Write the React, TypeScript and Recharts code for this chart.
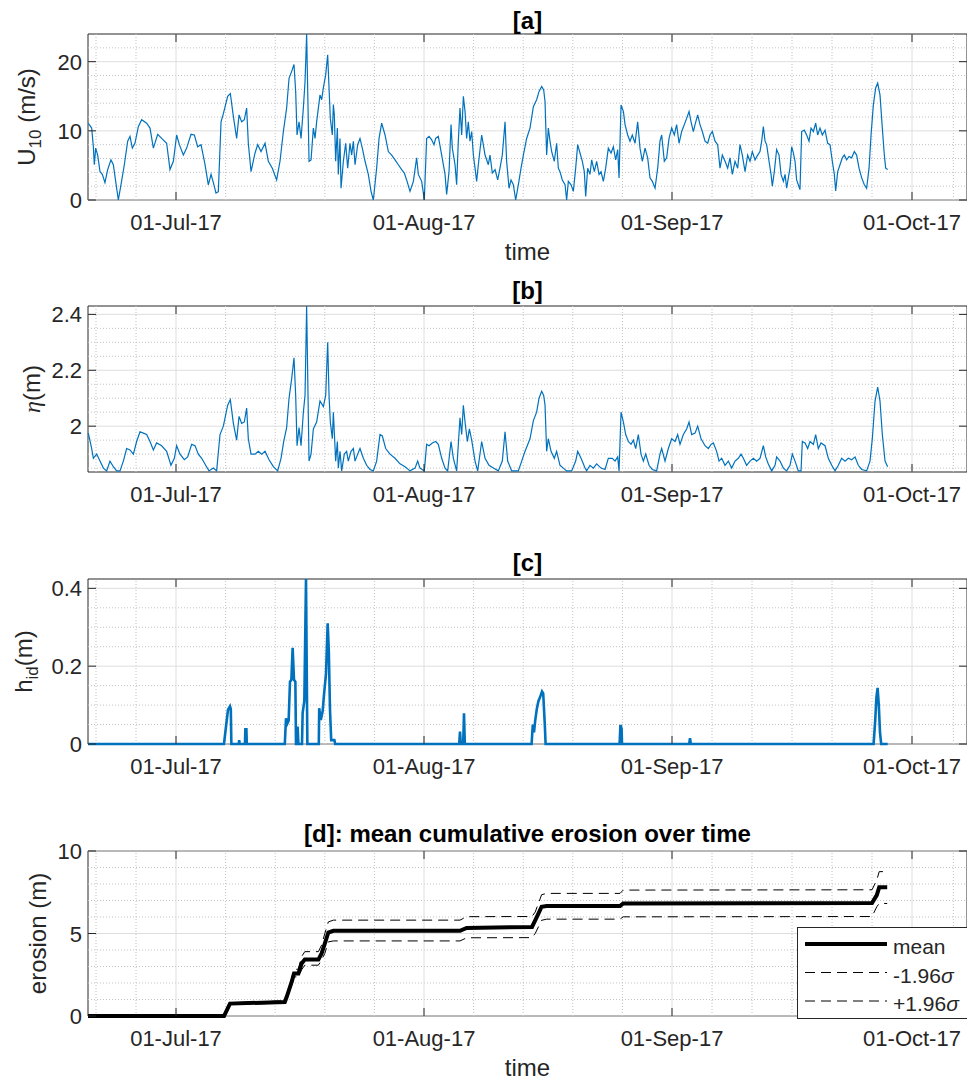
import type { ReactNode } from "react";
import {
  Legend,
  Line,
  LineChart,
  ReferenceArea,
  ReferenceLine,
  XAxis,
  YAxis,
} from "recharts";

const FONT = '"Liberation Sans", Arial, Helvetica, sans-serif';
const INK = "#262626";
const BLUE = "#0072BD";
const MAJOR_GRID = "#dedede";
const MINOR_GRID = "#c2c2c2";

const WIDTH = 967;
const AXIS_LEFT = 88;
const PLOT_W = WIDTH - AXIS_LEFT;
const TICK_LEN = 8;

// time is counted in days from 01-Jul-2017 00:00
const timeDomain: [number, number] = [-11, 98.875];
const monthDays = [0, 31, 62, 92];
const monthLabels = ["01-Jul-17", "01-Aug-17", "01-Sep-17", "01-Oct-17"];
const minorDays = [-10, -5, 6.2, 12.4, 18.6, 24.8, 37.2, 43.4, 49.6, 55.8, 67, 72, 77, 82, 87, 97.17];

type Pair = [number, number];

// [a] 10 m wind speed (m/s)
const windSpeed: Pair[] = [
  [-10.96, 11.1], [-10.54, 10.4], [-10.33, 7.7], [-10.21, 5.1], [-10.04, 7.5], [-9.79, 6.5],
  [-9.5, 4.1], [-9.21, 3.7], [-8.88, 2.5], [-8.54, 4.4], [-8.13, 5.8], [-7.83, 5.1],
  [-7.54, 2.7], [-7.21, 0], [-6.88, 2.2], [-6.46, 5.1], [-6.04, 8.5], [-5.75, 9.2],
  [-5.46, 7.5], [-5.13, 8.2], [-4.71, 10.6], [-4.29, 11.6], [-3.67, 11.1], [-3.25, 10.4],
  [-2.83, 7.5], [-2.29, 9.5], [-1.79, 8.9], [-1.17, 8.2], [-0.75, 4.4], [-0.33, 5.6],
  [0.08, 9.4], [0.42, 8.0], [0.92, 6.5], [1.33, 7.5], [1.88, 9.5], [2.29, 9.4],
  [2.71, 7.7], [3.13, 8.0], [3.63, 5.1], [4.04, 2.2], [4.38, 3.7], [4.67, 2.5],
  [5.0, 1.0], [5.29, 1.2], [5.63, 11.3], [5.92, 12.5], [6.46, 15.0], [6.79, 15.4],
  [7.17, 12.1], [7.58, 8.9], [7.88, 12.3], [8.21, 11.3], [8.54, 11.6], [8.83, 13.3],
  [9.04, 8.2], [9.38, 4.1], [9.88, 6.8], [10.21, 8.0], [10.63, 7.0], [11.13, 8.2],
  [11.54, 5.6], [12.04, 4.6], [12.58, 2.9], [13.0, 5.6], [13.42, 9.9], [13.83, 13.3],
  [14.13, 17.6], [14.46, 18.6], [14.75, 19.6], [14.96, 15.7], [15.13, 9.4], [15.38, 11.3],
  [15.63, 8.9], [15.92, 13.3], [16.13, 17.1], [16.33, 24], [16.63, 5.6], [16.88, 5.8],
  [17.17, 10.4], [17.38, 8.9], [17.58, 11.3], [18.0, 15.2], [18.21, 14.5], [18.42, 16.2],
  [18.71, 18.1], [18.96, 21.0], [19.13, 16.2], [19.29, 11.8], [19.54, 9.4], [19.67, 13.8],
  [19.79, 12.3], [19.96, 5.6], [20.17, 10.4], [20.29, 3.7], [20.5, 8.9], [20.63, 1.7],
  [20.92, 5.6], [21.21, 8.2], [21.46, 4.6], [21.75, 8.2], [21.96, 6.5], [22.17, 8.5],
  [22.38, 5.1], [22.71, 8.0], [23.0, 8.9], [23.29, 7.5], [23.63, 5.6], [24.04, 3.7],
  [24.38, 1.25], [24.67, 0], [25.08, 4.6], [25.38, 8.9], [25.71, 11.1], [26.13, 9.4],
  [26.54, 7.0], [26.96, 6.5], [27.38, 5.8], [27.79, 5.1], [28.21, 4.4], [28.54, 3.9],
  [28.83, 2.9], [29.25, 1.25], [29.67, 2.7], [30.08, 6.1], [30.29, 3.7], [30.71, 2.7],
  [31.04, 0], [31.33, 8.9], [31.63, 9.2], [31.96, 8.7], [32.25, 8.0], [32.46, 8.9],
  [32.79, 9.2], [33.21, 6.5], [33.63, 3.7], [33.83, 0.8], [34.13, 4.1], [34.38, 10.9],
  [34.54, 7.5], [34.88, 5.1], [35.08, 2.2], [35.29, 8.5], [35.5, 13.3], [35.71, 9.4],
  [35.92, 15.0], [36.13, 12.8], [36.33, 8.9], [36.54, 11.3], [36.75, 8.5], [36.96, 9.9],
  [37.17, 6.5], [37.38, 4.6], [37.58, 2.7], [37.79, 5.1], [38.21, 9.4], [38.63, 6.5],
  [39.04, 5.1], [39.25, 6.5], [39.54, 3.9], [39.88, 4.4], [40.21, 2.9], [40.5, 4.6],
  [40.79, 6.5], [41.13, 11.3], [41.33, 5.6], [41.63, 1.7], [41.88, 2.9], [42.17, 2.2],
  [42.46, 0], [42.79, 2.2], [43.13, 4.6], [43.42, 6.5], [43.83, 8.9], [44.25, 10.4],
  [44.67, 13.5], [45.08, 14.5], [45.38, 15.7], [45.71, 16.4], [45.96, 15.9], [46.13, 14.2],
  [46.33, 6.5], [46.54, 10.4], [46.75, 8.5], [46.96, 7.0], [47.29, 5.6], [47.58, 8.2],
  [47.79, 4.6], [48.0, 4.1], [48.29, 2.9], [48.63, 2.2], [48.83, 0], [49.04, 2.7],
  [49.38, 2.2], [49.67, 1.25], [49.96, 4.6], [50.21, 8.0], [50.5, 6.8], [50.79, 5.6],
  [51.04, 4.1], [51.21, 0.5], [51.46, 4.6], [51.75, 3.7], [51.96, 5.8], [52.29, 4.1],
  [52.58, 5.6], [52.88, 3.7], [53.13, 4.1], [53.42, 2.7], [53.71, 4.6], [54.04, 7.5],
  [54.38, 6.8], [54.67, 7.7], [54.96, 5.8], [55.21, 7.3], [55.38, 3.2], [55.63, 13.75],
  [55.92, 12.8], [56.13, 10.9], [56.46, 9.4], [56.75, 8.5], [57.04, 9.4], [57.38, 8.2],
  [57.71, 11.3], [58.0, 7.5], [58.29, 5.6], [58.63, 7.5], [58.96, 6.1], [59.25, 3.2],
  [59.54, 2.7], [59.88, 1.7], [60.21, 4.6], [60.5, 8.5], [60.71, 9.4], [61.04, 5.6],
  [61.33, 6.1], [61.63, 8.9], [61.96, 10.4], [62.29, 9.4], [62.58, 10.9], [62.88, 8.2],
  [63.21, 9.9], [63.54, 10.9], [63.83, 11.8], [64.13, 12.8], [64.38, 11.3], [64.67, 9.9],
  [64.88, 10.9], [65.21, 12.3], [65.5, 10.9], [65.79, 9.9], [66.13, 8.5], [66.46, 8.2],
  [66.75, 9.4], [67.04, 9.9], [67.38, 8.5], [67.71, 8.0], [68.0, 4.6], [68.29, 6.5],
  [68.63, 5.6], [68.96, 4.6], [69.25, 6.1], [69.54, 3.7], [69.88, 5.6], [70.21, 4.6],
  [70.5, 8.0], [70.79, 6.5], [71.13, 4.1], [71.46, 6.5], [71.75, 5.6], [72.04, 7.0],
  [72.38, 5.8], [72.71, 6.5], [73.0, 7.0], [73.21, 8.5], [73.42, 10.6], [73.63, 8.5],
  [73.83, 8.0], [74.13, 5.6], [74.38, 3.7], [74.54, 2.0], [74.79, 4.1], [75.08, 7.3],
  [75.38, 6.5], [75.63, 3.7], [75.92, 2.7], [76.13, 3.7], [76.33, 1.7], [76.54, 3.2],
  [76.75, 4.6], [76.96, 7.7], [77.17, 6.8], [77.38, 5.6], [77.58, 2.9], [77.79, 2.2],
  [78.0, 1.5], [78.21, 9.9], [78.54, 10.1], [78.83, 9.4], [79.13, 8.5], [79.38, 10.4],
  [79.67, 9.9], [79.96, 11.1], [80.21, 9.4], [80.5, 10.4], [80.79, 9.4], [81.13, 10.1],
  [81.46, 8.2], [81.75, 8.0], [82.04, 5.6], [82.29, 3.7], [82.46, 1.3], [82.71, 4.1],
  [83.0, 5.1], [83.29, 6.1], [83.54, 6.5], [83.83, 5.8], [84.13, 6.3], [84.46, 6.1],
  [84.79, 7.0], [85.08, 6.5], [85.38, 4.6], [85.71, 3.2], [86.04, 2.2], [86.33, 1.7],
  [86.63, 4.6], [86.88, 9.4], [87.17, 13.75], [87.46, 16.2], [87.71, 16.9], [88.0, 15.2],
  [88.29, 10.4], [88.54, 6.5], [88.71, 4.6], [88.96, 4.4],
];

// [b] water level eta (m)
const waterLevel: Pair[] = [
  [-10.96, 1.975], [-10.54, 1.92], [-10.33, 1.885], [-9.92, 1.9], [-9.5, 1.875], [-9.08, 1.85],
  [-8.67, 1.84], [-8.25, 1.875], [-7.83, 1.855], [-7.42, 1.84], [-7.0, 1.84], [-6.58, 1.875],
  [-6.17, 1.92], [-5.75, 1.915], [-5.33, 1.9], [-4.92, 1.945], [-4.5, 1.98], [-4.08, 1.975],
  [-3.67, 1.97], [-3.25, 1.945], [-2.83, 1.915], [-2.42, 1.94], [-1.79, 1.93], [-1.17, 1.91],
  [-0.63, 1.86], [-0.21, 1.885], [0.08, 1.93], [0.5, 1.9], [1.04, 1.88], [1.46, 1.89],
  [1.96, 1.935], [2.38, 1.93], [2.79, 1.9], [3.21, 1.885], [3.71, 1.86], [4.13, 1.84],
  [4.67, 1.85], [5.08, 1.84], [5.5, 1.97], [5.92, 2.0], [6.46, 2.075], [6.79, 2.095],
  [7.17, 2.01], [7.58, 1.95], [7.88, 2.035], [8.21, 2.01], [8.54, 2.015], [8.83, 2.065],
  [9.04, 1.955], [9.38, 1.9], [9.88, 1.9], [10.29, 1.91], [10.71, 1.9], [11.13, 1.91],
  [11.63, 1.88], [12.17, 1.855], [12.71, 1.84], [13.13, 1.885], [13.46, 1.945], [13.83, 1.995],
  [14.13, 2.1], [14.46, 2.17], [14.75, 2.245], [14.96, 2.11], [15.13, 1.93], [15.38, 1.995],
  [15.63, 1.93], [15.92, 2.05], [16.13, 2.11], [16.33, 2.43], [16.63, 1.875], [16.88, 1.9],
  [17.17, 1.99], [17.58, 2.015], [18.0, 2.09], [18.42, 2.07], [18.71, 2.11], [18.96, 2.3],
  [19.13, 2.11], [19.29, 2.015], [19.54, 1.955], [19.67, 2.05], [19.96, 1.875], [20.17, 1.945],
  [20.29, 1.85], [20.5, 1.91], [20.71, 1.84], [21.04, 1.9], [21.33, 1.91], [21.54, 1.875],
  [21.88, 1.91], [22.17, 1.92], [22.38, 1.875], [22.71, 1.9], [23.0, 1.92], [23.42, 1.885],
  [23.83, 1.86], [24.25, 1.845], [24.67, 1.84], [25.08, 1.875], [25.5, 1.97], [25.79, 1.965],
  [26.21, 1.92], [26.75, 1.9], [27.38, 1.885], [28.0, 1.865], [28.63, 1.855], [29.25, 1.84],
  [29.88, 1.85], [30.21, 1.875], [30.5, 1.85], [31.04, 1.84], [31.33, 1.935], [31.63, 1.93],
  [32.04, 1.94], [32.46, 1.945], [32.79, 1.935], [33.21, 1.885], [33.63, 1.85], [33.96, 1.84],
  [34.38, 1.945], [34.67, 1.885], [35.08, 1.84], [35.5, 2.03], [35.71, 1.97], [35.92, 2.075],
  [36.13, 2.015], [36.42, 1.945], [36.67, 1.99], [36.96, 1.95], [37.38, 1.875], [37.71, 1.84],
  [38.21, 1.945], [38.63, 1.885], [39.13, 1.86], [39.67, 1.85], [40.29, 1.84], [40.79, 1.875],
  [41.13, 1.98], [41.46, 1.875], [41.96, 1.84], [42.79, 1.84], [43.21, 1.875], [43.63, 1.91],
  [44.25, 1.955], [44.67, 2.02], [45.08, 2.05], [45.38, 2.1], [45.71, 2.125], [45.96, 2.11],
  [46.13, 2.075], [46.33, 1.91], [46.54, 1.955], [46.88, 1.91], [47.29, 1.885], [47.58, 1.91],
  [48.0, 1.86], [48.42, 1.85], [48.83, 1.84], [49.46, 1.84], [49.96, 1.875], [50.21, 1.91],
  [50.63, 1.885], [51.13, 1.85], [51.33, 1.84], [51.75, 1.86], [52.17, 1.85], [52.58, 1.865],
  [53.13, 1.85], [53.63, 1.845], [54.04, 1.885], [54.54, 1.885], [54.88, 1.875], [55.21, 1.89],
  [55.38, 1.84], [55.63, 2.05], [55.92, 2.015], [56.21, 1.97], [56.54, 1.945], [56.88, 1.935],
  [57.17, 1.95], [57.46, 1.92], [57.79, 1.97], [58.13, 1.9], [58.42, 1.875], [58.71, 1.9],
  [59.13, 1.86], [59.54, 1.845], [60.08, 1.84], [60.5, 1.9], [60.71, 1.92], [61.13, 1.875],
  [61.54, 1.92], [61.96, 1.955], [62.38, 1.945], [62.71, 1.97], [63.0, 1.935], [63.42, 1.97],
  [63.83, 1.99], [64.13, 2.015], [64.46, 1.97], [64.88, 1.975], [65.21, 2.0], [65.63, 1.955],
  [66.13, 1.93], [66.54, 1.92], [66.88, 1.935], [67.17, 1.94], [67.58, 1.91], [67.88, 1.875],
  [68.21, 1.885], [68.63, 1.86], [69.04, 1.875], [69.46, 1.85], [69.88, 1.875], [70.29, 1.885],
  [70.63, 1.9], [70.92, 1.885], [71.33, 1.86], [71.75, 1.875], [72.17, 1.885], [72.58, 1.875],
  [73.0, 1.885], [73.42, 1.93], [73.71, 1.89], [74.04, 1.865], [74.46, 1.84], [74.88, 1.86],
  [75.08, 1.89], [75.5, 1.875], [75.92, 1.85], [76.33, 1.84], [76.75, 1.86], [77.04, 1.9],
  [77.38, 1.875], [77.79, 1.84], [78.13, 1.84], [78.29, 1.945], [78.63, 1.94], [78.96, 1.92],
  [79.25, 1.945], [79.67, 1.935], [79.96, 1.97], [80.29, 1.92], [80.63, 1.94], [81.13, 1.93],
  [81.54, 1.885], [81.96, 1.86], [82.38, 1.84], [82.79, 1.86], [83.21, 1.885], [83.63, 1.875],
  [84.04, 1.885], [84.46, 1.88], [84.88, 1.89], [85.29, 1.86], [85.71, 1.845], [86.33, 1.84],
  [86.75, 1.875], [87.04, 1.955], [87.38, 2.09], [87.71, 2.14], [88.0, 2.09], [88.29, 1.97],
  [88.63, 1.875], [88.96, 1.855],
];

// [c] impact depth h_id (m)
const impactDepth: Pair[] = [
  [-11, 0], [6.0, 0], [6.25, 0.045], [6.5, 0.088], [6.75, 0.097], [6.85, 0.09], [6.92, 0],
  [7.85, 0], [7.9, 0.01], [7.95, 0], [8.62, 0], [8.67, 0.038], [8.8, 0.038], [8.85, 0],
  [13.6, 0], [13.75, 0.066], [13.92, 0.053], [14.08, 0.06], [14.25, 0.16], [14.42, 0.165],
  [14.58, 0.247], [14.75, 0.165], [14.92, 0.16], [15.0, 0], [15.15, 0], [15.2, 0.045], [15.3, 0],
  [15.75, 0], [15.83, 0.08], [16.04, 0.11], [16.25, 0.424], [16.42, 0],
  [17.85, 0], [17.9, 0.092], [18.1, 0.062], [18.33, 0.084], [18.5, 0.127], [18.75, 0.18],
  [18.96, 0.31], [19.1, 0.24], [19.25, 0.088], [19.4, 0.01], [19.8, 0.01], [19.9, 0],
  [35.4, 0], [35.5, 0.032], [35.6, 0], [35.9, 0], [36.0, 0.079], [36.1, 0],
  [44.45, 0], [44.6, 0.05], [44.75, 0.03], [44.9, 0.06], [45.1, 0.09], [45.3, 0.11],
  [45.5, 0.12], [45.75, 0.135], [45.9, 0.13], [46.1, 0.05], [46.2, 0],
  [55.45, 0], [55.55, 0.049], [55.7, 0.04], [55.75, 0],
  [64.15, 0], [64.25, 0.015], [64.35, 0],
  [87.2, 0], [87.4, 0.06], [87.55, 0.12], [87.7, 0.144], [87.85, 0.1], [88.0, 0.03], [88.15, 0],
  [88.96, 0],
];

// [d] cumulative erosion (m): mean and 95% band
const erosionDays = [
  -11, 6.0, 6.75, 13.6, 13.83, 14.46, 14.75, 15.3, 15.7, 16.1, 17.8, 18.2, 18.6, 19.04,
  19.67, 35.5, 36.33, 44.5, 44.9, 45.3, 45.7, 46.33, 55.5, 55.9, 87.0, 87.6, 87.9, 88.9,
];
const erosionMean = [
  0, 0, 0.75, 0.85, 1.15, 2.06, 2.57, 2.57, 3.18, 3.42, 3.42, 3.79, 4.39, 5.06,
  5.16, 5.16, 5.34, 5.4, 5.8, 6.2, 6.62, 6.66, 6.66, 6.82, 6.85, 7.33, 7.8, 7.8,
];
const erosionLower = [
  0, 0, 0.7, 0.78, 1.05, 1.85, 2.37, 2.37, 2.8, 3.08, 3.08, 3.4, 3.79, 4.49,
  4.55, 4.55, 4.74, 4.75, 5.0, 5.4, 5.8, 5.87, 5.87, 6.01, 6.03, 6.62, 6.82, 6.82,
];
const erosionUpper = [
  0, 0, 0.8, 0.92, 1.25, 2.3, 2.8, 2.85, 3.6, 3.9, 3.9, 4.3, 5.0, 5.7,
  5.81, 5.81, 6.02, 6.03, 6.3, 6.82, 7.35, 7.43, 7.43, 7.63, 7.65, 8.24, 8.75, 8.75,
];

const toRows = (pairs: Pair[]) => pairs.map(([day, value]) => ({ day, value }));
const erosionRows = erosionDays.map((day, i) => ({
  day,
  mean: erosionMean[i],
  lower: erosionLower[i],
  upper: erosionUpper[i],
}));

const legendOrder = ["mean", "-1.96σ", "+1.96σ"];

interface PanelSpec {
  top: number;
  height: number;
  marginTop: number;
  plotHeight: number;
  yDomain: [number, number];
  yTicks: number[];
  yMinor: number[];
  title: string;
  titleOffset: number;
  yLabel: ReactNode;
  yLabelX: number;
  timeLabel?: boolean;
}

const textStyle = { fontFamily: FONT, fill: INK };

function Panel({ spec, children }: { spec: PanelSpec; children: ReactNode }) {
  const xAxisHeight = spec.height - spec.marginTop - spec.plotHeight;

  const renderXTick = (p: any) => {
    const { x, y, payload } = p;
    const label = monthLabels[monthDays.indexOf(payload.value)];
    return (
      <g>
        <line x1={x} x2={x} y1={y} y2={y - TICK_LEN} stroke={INK} />
        <line
          x1={x}
          x2={x}
          y1={y - spec.plotHeight}
          y2={y - spec.plotHeight + TICK_LEN}
          stroke={INK}
        />
        <text x={x} y={y + 30} textAnchor="middle" fontSize={22} {...textStyle}>
          {label}
        </text>
      </g>
    );
  };

  const renderYTick = (p: any) => {
    const { x, y, payload } = p;
    return (
      <g>
        <line x1={x} x2={x + TICK_LEN} y1={y} y2={y} stroke={INK} />
        <line x1={x + PLOT_W} x2={x + PLOT_W - TICK_LEN} y1={y} y2={y} stroke={INK} />
        <text x={x - 6} y={y + 8} textAnchor="end" fontSize={22} {...textStyle}>
          {String(payload.value)}
        </text>
      </g>
    );
  };

  const renderYLabel = (p: any) => {
    const vb = p.viewBox;
    const cy = vb.y + vb.height / 2;
    return (
      <text
        transform={`translate(${spec.yLabelX}, ${cy}) rotate(-90)`}
        textAnchor="middle"
        fontSize={24}
        {...textStyle}
      >
        {spec.yLabel}
      </text>
    );
  };

  const renderTimeLabel = (p: any) => {
    const vb = p.viewBox;
    return (
      <text x={vb.x + vb.width / 2} y={vb.y + 60} textAnchor="middle" fontSize={24} {...textStyle}>
        time
      </text>
    );
  };

  return (
    <div style={{ position: "absolute", left: 0, top: spec.top }}>
      <LineChart
        width={WIDTH}
        height={spec.height}
        margin={{ top: spec.marginTop, right: 0, bottom: 0, left: 0 }}
      >
        <XAxis
          type="number"
          dataKey="day"
          domain={timeDomain}
          ticks={monthDays}
          interval={0}
          tickSize={0}
          tickMargin={0}
          axisLine={false}
          tickLine={false}
          tick={renderXTick}
          height={xAxisHeight}
          label={spec.timeLabel ? { content: renderTimeLabel } : undefined}
        />
        <YAxis
          type="number"
          domain={spec.yDomain}
          ticks={spec.yTicks}
          interval={0}
          tickSize={0}
          tickMargin={0}
          axisLine={false}
          tickLine={false}
          tick={renderYTick}
          width={AXIS_LEFT}
          label={{ content: renderYLabel }}
        />
        {spec.yMinor.map((v) => (
          <ReferenceLine key={`ym-${v}`} y={v} stroke={MINOR_GRID} strokeDasharray="1 2" />
        ))}
        {minorDays.map((d) => (
          <ReferenceLine key={`xm-${d}`} x={d} stroke={MINOR_GRID} strokeDasharray="1 2" />
        ))}
        {spec.yTicks.map((v) => (
          <ReferenceLine key={`yM-${v}`} y={v} stroke={MAJOR_GRID} />
        ))}
        {monthDays.map((d) => (
          <ReferenceLine key={`xM-${d}`} x={d} stroke={MAJOR_GRID} />
        ))}
        <ReferenceArea
          x1={timeDomain[0]}
          x2={timeDomain[1]}
          y1={spec.yDomain[0]}
          y2={spec.yDomain[1]}
          fill="none"
          fillOpacity={0}
          stroke={INK}
          strokeOpacity={1}
          label={{
            value: spec.title,
            position: "top",
            offset: spec.titleOffset,
            fontSize: 24,
            fontWeight: "bold",
            fontFamily: FONT,
            fill: "#000",
          }}
        />
        {children}
      </LineChart>
    </div>
  );
}

function ErosionLegend({ payload }: { payload?: any[] }) {
  const entries = legendOrder
    .map((name) => payload?.find((p) => p.value === name))
    .filter(Boolean);
  return (
    <svg width={172} height={92} style={{ display: "block" }}>
      <rect x={0.5} y={0.5} width={172} height={91} fill="#fff" stroke={INK} />
      {entries.map((e: any, i: number) => {
        const y = 17 + i * 28.5;
        const name: string = e.value;
        const plain = name.replace("σ", "");
        return (
          <g key={name}>
            <line
              x1={8}
              x2={90}
              y1={y}
              y2={y}
              stroke={e.color}
              strokeWidth={e.payload?.strokeWidth ?? 1}
              strokeDasharray={e.payload?.strokeDasharray}
            />
            <text x={96} y={y + 10} fontSize={21} {...textStyle}>
              {plain}
              {name.includes("σ") && <tspan fontStyle="italic">σ</tspan>}
            </text>
          </g>
        );
      })}
    </svg>
  );
}

const panelA: PanelSpec = {
  top: 0,
  height: 270,
  marginTop: 34,
  plotHeight: 166,
  yDomain: [0, 24],
  yTicks: [0, 10, 20],
  yMinor: [2, 4, 6, 8, 12, 14, 16, 18, 22],
  title: "[a]",
  titleOffset: 5,
  yLabelX: 35,
  yLabel: (
    <>
      U
      <tspan dy={6} fontSize={17}>
        10
      </tspan>
      <tspan dy={-6}> (m/s)</tspan>
    </>
  ),
  timeLabel: true,
};

const panelB: PanelSpec = {
  top: 270,
  height: 272,
  marginTop: 36,
  plotHeight: 166,
  yDomain: [1.836, 2.43],
  yTicks: [2, 2.2, 2.4],
  yMinor: [1.85, 1.9, 1.95, 2.05, 2.1, 2.15, 2.25, 2.3, 2.35],
  title: "[b]",
  titleOffset: 7,
  yLabelX: 40,
  yLabel: (
    <>
      <tspan fontStyle="italic" fontFamily='"Liberation Serif", serif'>
        η
      </tspan>
      (m)
    </>
  ),
};

const panelC: PanelSpec = {
  top: 542,
  height: 272,
  marginTop: 37,
  plotHeight: 165,
  yDomain: [0, 0.424],
  yTicks: [0, 0.2, 0.4],
  yMinor: [0.05, 0.1, 0.15, 0.25, 0.3, 0.35],
  title: "[c]",
  titleOffset: 8,
  yLabelX: 32,
  yLabel: (
    <>
      h
      <tspan dy={6} fontSize={17}>
        id
      </tspan>
      <tspan dy={-6}>(m)</tspan>
    </>
  ),
};

const panelD: PanelSpec = {
  top: 814,
  height: 267,
  marginTop: 37,
  plotHeight: 165,
  yDomain: [0, 10],
  yTicks: [0, 5, 10],
  yMinor: [1, 2, 3, 4, 6, 7, 8, 9],
  title: "[d]: mean cumulative erosion over time",
  titleOffset: 9,
  yLabelX: 46,
  yLabel: "erosion (m)",
  timeLabel: true,
};

export default function App() {
  return (
    <div
      style={{
        position: "absolute",
        left: 0,
        top: 0,
        width: WIDTH,
        height: 1081,
        background: "#fff",
        overflow: "hidden",
      }}
    >
      <Panel spec={panelA}>
        <Line
          data={toRows(windSpeed)}
          dataKey="value"
          type="linear"
          stroke={BLUE}
          strokeWidth={1.2}
          dot={false}
          isAnimationActive={false}
        />
      </Panel>
      <Panel spec={panelB}>
        <Line
          data={toRows(waterLevel)}
          dataKey="value"
          type="linear"
          stroke={BLUE}
          strokeWidth={1.2}
          dot={false}
          isAnimationActive={false}
        />
      </Panel>
      <Panel spec={panelC}>
        <Line
          data={toRows(impactDepth)}
          dataKey="value"
          type="linear"
          stroke={BLUE}
          strokeWidth={2.6}
          dot={false}
          isAnimationActive={false}
        />
      </Panel>
      <Panel spec={panelD}>
        <Line
          data={erosionRows}
          dataKey="mean"
          name="mean"
          type="linear"
          stroke="#000"
          strokeWidth={4}
          dot={false}
          legendType="line"
          isAnimationActive={false}
        />
        <Line
          data={erosionRows}
          dataKey="lower"
          name="-1.96σ"
          type="linear"
          stroke="#000"
          strokeWidth={1}
          strokeDasharray="10 6"
          dot={false}
          legendType="line"
          isAnimationActive={false}
        />
        <Line
          data={erosionRows}
          dataKey="upper"
          name="+1.96σ"
          type="linear"
          stroke="#000"
          strokeWidth={1}
          strokeDasharray="10 6"
          dot={false}
          legendType="line"
          isAnimationActive={false}
        />
        <Legend
          layout="vertical"
          align="center"
          verticalAlign="middle"
          wrapperStyle={{ left: 797, top: 927 - 814, width: 172, height: 92 }}
          content={(props: any) => <ErosionLegend payload={props.payload} />}
        />
      </Panel>
    </div>
  );
}
